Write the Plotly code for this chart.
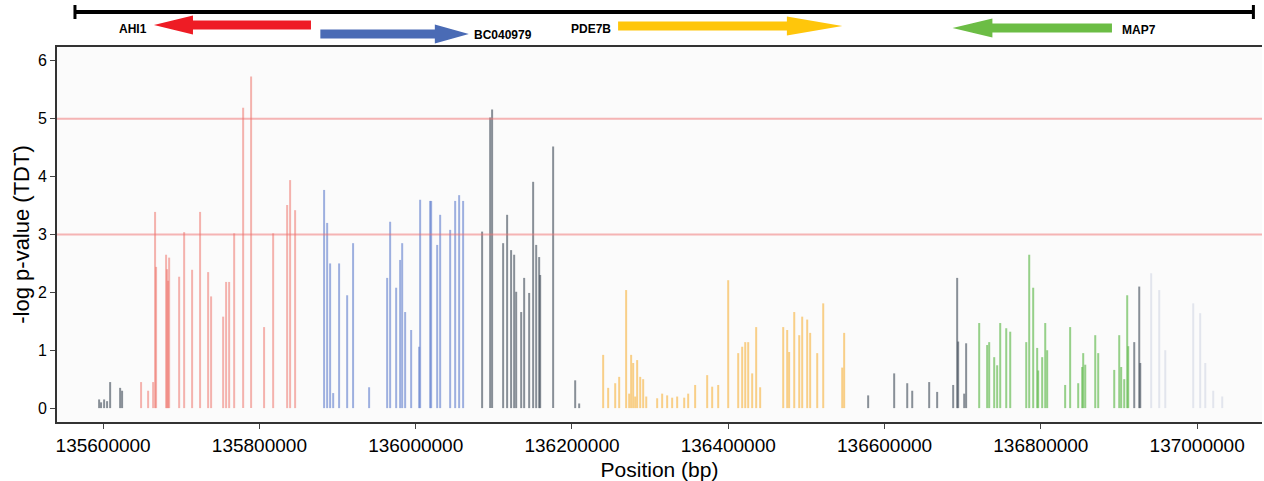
import plotly.graph_objects as go

# ---------------- data ----------------
region_start = 135564000
region_end = 137072000

gene_names = ["AHI1", "BC040979", "PDE7B", "MAP7"]
gene_tail = [135866000, 135878000, 136259000, 136891000]
gene_tip = [135665000, 136068000, 136546000, 136687000]

thresholds = [3, 5]

x_tickvals = [135600000, 135800000, 136000000, 136200000, 136400000, 136600000, 136800000, 137000000]
x_ticktext = ["135600000", "135800000", "136000000", "136200000", "136400000", "136600000", "136800000", "137000000"]
y_tickvals = [0, 1, 2, 3, 4, 5, 6]

dark_pos = [135594900, 135597400, 135601300, 135605100, 135609000, 135621800, 135624300,
            136085000, 136095300, 136097800, 136111900, 136117000, 136122100, 136126000,
            136128600, 136135000, 136138800, 136145200, 136150300, 136154200, 136158000,
            136159300, 136175900, 136204100, 136209200,
            136579000, 136612300, 136629000, 136635400, 136657100, 136667300, 136687800,
            136692900, 136694200, 136701900, 136704400, 136919500, 136925900, 136927200]
dark_val = [0.15, 0.1, 0.15, 0.12, 0.45, 0.35, 0.3,
            3.05, 5.02, 5.16, 2.85, 3.34, 2.73, 2.65,
            2.01, 1.66, 2.25, 1.99, 3.91, 2.82, 2.61,
            2.3, 4.52, 0.48, 0.08,
            0.22, 0.6, 0.43, 0.3, 0.45, 0.28, 0.4,
            2.25, 1.15, 0.25, 1.12, 1.14, 2.1, 0.78]

red_pos = [135648600, 135657600, 135664000, 135666500, 135667800, 135680600, 135681900,
           135683200, 135684500, 135697300, 135703700, 135713900, 135724100, 135734400,
           135738200, 135753600, 135757400, 135761300, 135767700, 135779200, 135789400,
           135806000, 135817600, 135835500, 135839300, 135845700]
red_val = [0.45, 0.3, 0.45, 3.39, 2.44, 2.65, 2.4,
           2.2, 2.6, 2.27, 3.04, 2.39, 3.39, 2.35,
           1.93, 1.58, 2.18, 2.18, 3.02, 5.19, 5.73,
           1.4, 3.02, 3.51, 3.94, 3.42]

blue_pos = [135882800, 135886700, 135890500, 135894400, 135902000, 135912300, 135919900,
            135940400, 135963500, 135967300, 135975000, 135980100, 135982700, 135986500,
            135994200, 136004400, 136005700, 136018500, 136019800, 136027500, 136031300,
            136044100, 136050500, 136055600, 136060700]
blue_val = [3.77, 3.2, 2.5, 0.26, 2.5, 1.95, 2.85,
            0.36, 2.25, 3.22, 2.08, 2.56, 2.85, 1.66,
            1.35, 1.06, 3.6, 3.58, 3.58, 2.82, 3.34,
            3.08, 3.58, 3.68, 3.58]

yellow_pos = [136239900, 136246300, 136255300, 136260400, 136269300, 136273200, 136275700,
              136278300, 136280900, 136283400, 136287300, 136291100, 136295000, 136309000,
              136315400, 136321800, 136328200, 136334600, 136343600, 136348700, 136357600,
              136373000, 136379400, 136387100, 136399900, 136412700, 136417800, 136421700,
              136425500, 136430600, 136435700, 136440800, 136470300, 136475400, 136477900,
              136484400, 136490800, 136494600, 136501000, 136504800, 136513800, 136521500,
              136545800, 136548300]
yellow_val = [0.92, 0.35, 0.43, 0.54, 2.04, 0.25, 0.92,
              0.78, 0.2, 0.83, 0.54, 0.5, 0.2, 0.17,
              0.25, 0.22, 0.18, 0.2, 0.18, 0.25, 0.4,
              0.57, 0.37, 0.4, 2.21, 0.95, 1.06, 1.14,
              1.14, 0.6, 1.4, 0.36, 1.4, 1.35, 0.97,
              1.66, 1.26, 1.58, 1.53, 1.3, 0.95, 1.81,
              0.7, 1.3]

green_pos = [136721100, 136731300, 136733900, 136740300, 136744100, 136748000, 136755700,
             136760800, 136781300, 136785100, 136790200, 136795300, 136796600, 136801700,
             136805600, 136808100, 136831100, 136837500, 136847800, 136852900, 136854200,
             136856800, 136869600, 136873400, 136893900, 136900300, 136902800, 136906700,
             136910500, 136911800]
green_val = [1.47, 1.09, 1.14, 0.88, 0.74, 1.47, 1.38,
             1.32, 1.14, 2.65, 2.08, 1.04, 0.65, 0.88,
             1.47, 1.0, 0.4, 1.4, 0.43, 0.71, 0.95,
             0.75, 1.26, 0.95, 0.66, 1.26, 0.71, 0.5,
             1.95, 1.07]

faint_pos = [136941200, 136951500, 136959200, 136995000, 137003900, 137010400, 137020600, 137032100]
faint_val = [2.33, 2.04, 1.0, 1.81, 1.64, 0.78, 0.3, 0.2]

# ---------------- styles ----------------
groups = [
    (dark_pos, dark_val, "rgba(60,72,85,0.6)"),
    (red_pos, red_val, "rgba(238,105,95,0.5)"),
    (blue_pos, blue_val, "rgba(95,125,205,0.6)"),
    (yellow_pos, yellow_val, "rgba(247,178,60,0.6)"),
    (green_pos, green_val, "rgba(95,185,75,0.65)"),
    (faint_pos, faint_val, "rgba(170,180,205,0.3)"),
]
gene_colors = ["#ee1c25", "#4a6bb5", "#ffc60b", "#6cbd45"]
gene_lane_y = [25, 34, 26, 28]          # track lane (pixel-like units of the track axis)
gene_head = [50000, 43500, 71000, 51000]
gene_label_y = [29, 35, 29, 30]
shaft_half = 4.5
head_half = 9.5
track_y = 12
font_family = "Liberation Sans, Arial, sans-serif"

fig = go.Figure()

# background of the main panel
fig.add_shape(type="rect", xref="x domain", yref="y domain", x0=0, x1=1, y0=0, y1=1,
              fillcolor="#fbfbfb", line_width=0, layer="below")

# association stems
for pos, val, col in groups:
    xs, ys = [], []
    for p, v in zip(pos, val):
        xs += [p, p, None]
        ys += [0, v, None]
    fig.add_trace(go.Scatter(x=xs, y=ys, mode="lines", line=dict(color=col, width=2),
                             hoverinfo="skip", showlegend=False))

# thresholds
for t in thresholds:
    fig.add_trace(go.Scatter(x=[135541000, 137083000], y=[t, t], mode="lines",
                             line=dict(color="rgba(240,110,110,0.5)", width=2),
                             hoverinfo="skip", showlegend=False))

# gene track
fig.add_trace(go.Scatter(x=[region_start, region_end], y=[track_y, track_y], mode="lines",
                         line=dict(color="black", width=4), yaxis="y2", showlegend=False,
                         hoverinfo="skip"))
for xe in [region_start, region_end]:
    fig.add_trace(go.Scatter(x=[xe, xe], y=[track_y - 7, track_y + 7], mode="lines",
                             line=dict(color="black", width=3), yaxis="y2",
                             showlegend=False, hoverinfo="skip"))

for name, tail, tip, col, ly, hl, lab_y in zip(gene_names, gene_tail, gene_tip, gene_colors,
                                                gene_lane_y, gene_head, gene_label_y):
    d = 1 if tip > tail else -1
    base = tip - d * hl
    px = [tail, base, base, tip, base, base, tail, tail]
    py = [ly - shaft_half, ly - shaft_half, ly - head_half, ly, ly + head_half,
          ly + shaft_half, ly + shaft_half, ly - shaft_half]
    fig.add_trace(go.Scatter(x=px, y=py, mode="lines", fill="toself", fillcolor=col,
                             line=dict(color=col, width=0), yaxis="y2",
                             showlegend=False, hoverinfo="skip"))
    left = min(tail, tip)
    right = max(tail, tip)
    if name in ("AHI1", "PDE7B"):
        fig.add_annotation(x=left, y=lab_y, xref="x", yref="y2", text="<b>%s</b>" % name,
                           showarrow=False, xanchor="right", xshift=-5,
                           font=dict(size=12, color="black", family=font_family))
    else:
        fig.add_annotation(x=right, y=lab_y, xref="x", yref="y2", text="<b>%s</b>" % name,
                           showarrow=False, xanchor="left", xshift=3 if name == "BC040979" else 8,
                           font=dict(size=12, color="black", family=font_family))

fig.update_layout(
    width=1264, height=481,
    margin=dict(l=57, r=2, t=2, b=59),
    paper_bgcolor="white", plot_bgcolor="rgba(0,0,0,0)",
    font=dict(family=font_family, color="black"),
    xaxis=dict(range=[135541000, 137083000], tickvals=x_tickvals, ticktext=x_ticktext,
               ticks="outside", ticklen=5, tickcolor="#444", tickfont=dict(size=19),
               showline=True, linecolor="#333", linewidth=2, mirror=True,
               showgrid=False, zeroline=False,
               title=dict(text="Position (bp)", font=dict(size=21), standoff=8)),
    yaxis=dict(domain=[0, 0.8929], range=[-0.24, 6.24], tickvals=y_tickvals,
               ticks="outside", ticklen=5, tickcolor="#444", tickfont=dict(size=16),
               showline=True, linecolor="#333", linewidth=2,
               showgrid=False, zeroline=False,
               title=dict(text="-log p-value (TDT)", font=dict(size=22), standoff=2)),
    yaxis2=dict(domain=[0.9, 1.0], range=[44, 2], visible=False, anchor="x"),
)

fig.write_html("out.html")
